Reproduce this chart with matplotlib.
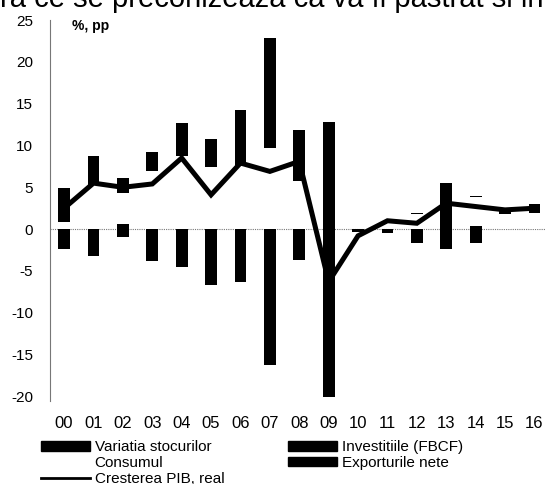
import matplotlib
matplotlib.use("Agg")
import matplotlib.pyplot as plt
import numpy as np
from matplotlib.patches import Patch
from matplotlib.lines import Line2D

plt.rcParams['font.family'] = ['Liberation Sans', 'DejaVu Sans']
plt.rcParams['axes.unicode_minus'] = False

years = ['00', '01', '02', '03', '04', '05', '06', '07', '08', '09',
         '10', '11', '12', '13', '14', '15', '16']
stocuri = [0, 0, 0.6, 0, 0, 0, 0, 0, 0, -11.0, -0.4, -0.5, 0, -2.4, 0.4, 0, 0]
consum = [0.84, 5.3, 3.7, 7.0, 8.7, 7.4, 7.6, 9.7, 5.7, 0, 0, 0, 1.8, 0, 3.4, 1.8, 1.9]
invest = [4.06, 3.5, 1.8, 2.2, 4.0, 3.4, 6.6, 13.1, 6.2, -9.1, 0, 0, 0.15, 0, 0.15, 0.4, 1.1]
export_nete = [-2.4, -3.2, -1.0, -3.8, -4.5, -6.7, -6.3, -16.2, -3.7, 12.8, 0, 0,
               -1.6, 5.5, -1.6, 0, 0]
pib = [2.5, 5.5, 5.0, 5.4, 8.5, 4.1, 7.9, 6.9, 8.1, -6.3, -0.8, 1.0, 0.7, 3.1, 2.7, 2.3, 2.5]

yticks = [25, 20, 15, 10, 5, 0, -5, -10, -15, -20]

fig = plt.figure(figsize=(5.45, 4.84), dpi=100)
ax = fig.add_axes([50/545, (484-400.6)/484, 1-50/545, (400.6-20)/484])

x = np.arange(len(years))
w = 0.4
series = [(stocuri, 'black'), (consum, 'white'), (invest, 'black'), (export_nete, 'black')]
pos = np.zeros(len(x))
neg = np.zeros(len(x))
for vals, col in series:
    v = np.array(vals, dtype=float)
    b = np.where(v >= 0, pos, neg)
    ax.bar(x, v, w, bottom=b, color=col, edgecolor='none', zorder=2)
    pos = pos + np.where(v >= 0, v, 0)
    neg = neg + np.where(v < 0, v, 0)

ax.axhline(0, color='#777777', lw=0.8, ls=(0, (1, 1)), zorder=1)
ax.plot(x, pib, color='black', lw=3.6, zorder=3, solid_joinstyle='miter')

ax.set_xlim(-0.48, 16.36)
ax.set_ylim(-20.5, 25)
ax.set_yticks(yticks)
ax.set_xticks(x)
ax.set_xticklabels(years)
for s in ['top', 'right', 'bottom']:
    ax.spines[s].set_visible(False)
ax.spines['left'].set_linestyle((0, (1, 1)))
ax.spines['left'].set_color('#777777')
ax.spines['left'].set_linewidth(0.8)
ax.tick_params(axis='y', length=0, pad=12, labelsize=11)
ax.tick_params(axis='x', length=0, pad=11, labelsize=12)

ax.text(0.045, 0.985, '%, pp', transform=ax.transAxes, fontsize=10,
        fontweight='bold', va='center', ha='left')

fig.text(0.0, 1 - 7/484, 'ra ce se preconizeaza ca va fi pastrat si in',
         fontsize=21, va='baseline', ha='left')

handles = [Patch(color='black'), Patch(color='white'),
           Line2D([0], [0], color='black', lw=2),
           Patch(color='black'), Patch(color='black')]
labels = ['Variatia stocurilor', 'Consumul', 'Cresterea PIB, real',
          'Investitiile (FBCF)', 'Exporturile nete']
fig.legend(handles, labels, ncol=2, loc='upper left',
           bbox_to_anchor=(35/545, 1 - 434/484), frameon=False,
           fontsize=11, handlelength=3.2, handletextpad=0.3,
           columnspacing=4.2, labelspacing=0.12, borderaxespad=0,
           handleheight=0.6)

fig.savefig('out.png', dpi=100)
